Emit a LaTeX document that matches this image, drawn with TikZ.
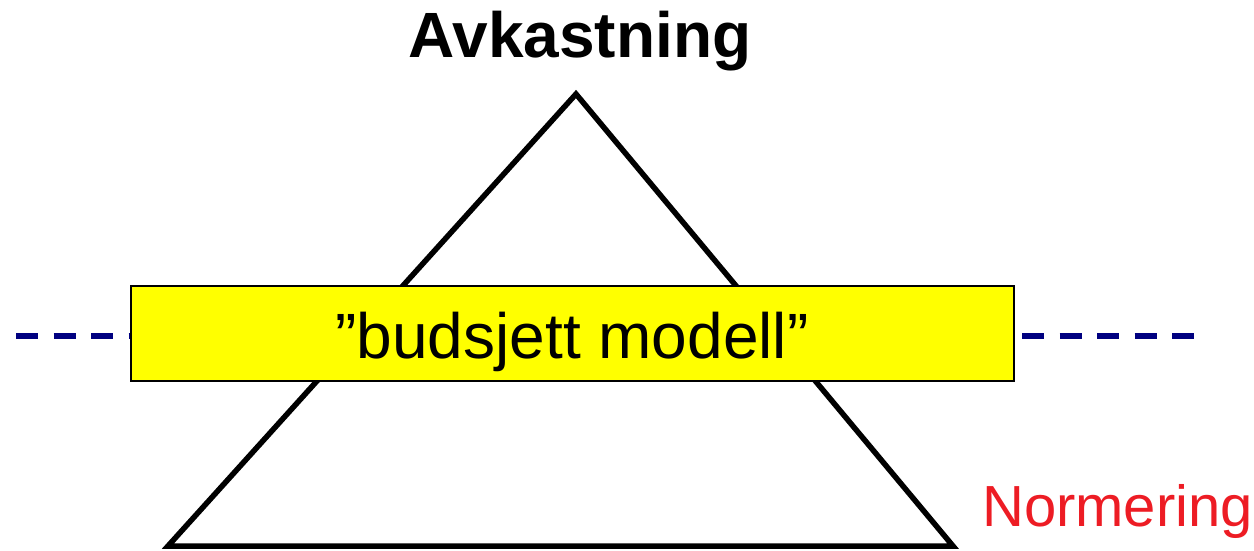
\documentclass[tikz,border=0pt]{standalone}
\usepackage{fontspec}
\setmainfont{Liberation Sans}
\definecolor{navyline}{RGB}{0,0,128}
\definecolor{normred}{RGB}{237,28,36}
\definecolor{boxyellow}{RGB}{255,255,0}
\begin{document}
\begin{tikzpicture}[x=1pt,y=-1pt,
  tri/.style={line width=5.5pt,line join=miter,black},
  navydash/.style={line width=6pt,navyline,dash pattern=on 22pt off 15.5pt},
  ybox/.style={draw=black,line width=2.5pt,fill=boxyellow},
  lbl/.style={inner sep=0pt,anchor=base}]
\useasboundingbox (0,0) rectangle (1254,550);
% dashed lines
\coordinate (dl1) at (16,336);
\coordinate (dl2) at (131,336);
\coordinate (dr1) at (1022,336);
\coordinate (dr2) at (1200,336);
\draw[navydash] (dl1) -- (dl2);
\draw[navydash] (dr1) -- (dr2);
% triangle
\coordinate (apex) at (576,94);
\coordinate (bl) at (168,546);
\coordinate (br) at (953,546);
\draw[tri] (apex) -- (br) -- (bl) -- cycle;
% box
\coordinate (b1) at (131,286);
\coordinate (b2) at (1014,381);
\draw[ybox] (b1) rectangle (b2);
% texts
\node[lbl,font=\fontsize{64}{70}\selectfont\bfseries] (title) at (580,57) {Avkastning};
\node[lbl,font=\fontsize{64}{70}\selectfont] (model) at (572,358) {”budsjett modell”};
\node[lbl,anchor=base west,text=normred,font=\fontsize{58}{64}\selectfont] (norm) at (982,526) {Normering};
\end{tikzpicture}
\end{document}
